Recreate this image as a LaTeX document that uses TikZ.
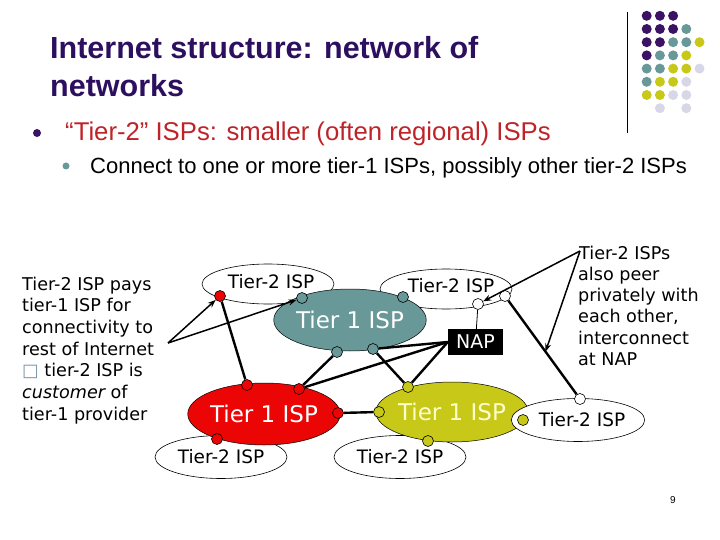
\documentclass[tikz,border=0pt]{standalone}
\usepackage{fontspec}
\setmainfont{Liberation Sans}
\newfontfamily\comic{DejaVu Sans}
\usetikzlibrary{shapes.geometric,arrows.meta,calc}
\definecolor{ttitle}{RGB}{45,15,95}
\definecolor{tpurple}{RGB}{60,18,100}
\definecolor{tred}{RGB}{190,35,40}
\definecolor{tealc}{RGB}{104,152,152}
\definecolor{yelc}{RGB}{200,200,25}
\definecolor{lavc}{RGB}{215,215,232}
\definecolor{redc}{RGB}{235,5,5}
\definecolor{sqc}{RGB}{120,150,165}
\definecolor{lighty}{RGB}{255,255,200}
\tikzset{
  isptwo/.style={ellipse, draw, line width=0.6pt, fill=white, minimum width=132pt, minimum height=40pt, inner sep=0pt, font=\comic\fontsize{18.5}{21}\selectfont},
  isplabel/.style={inner sep=0pt, font=\comic\fontsize{18.5}{21}\selectfont},
  tierone/.style={ellipse, draw, line width=0.5pt, inner sep=0pt, font=\comic\fontsize{23}{26}\selectfont},
  router/.style={circle, draw, line width=0.6pt, minimum size=11pt, inner sep=0pt},
  link/.style={line width=2.4pt},
  callout/.style={line width=1.5pt, -{Stealth[length=8pt,width=6pt]}},
  sidetxt/.style={anchor=base west, inner sep=0pt, font=\comic\fontsize{17.6}{20}\selectfont},
  gdot/.style={circle, inner sep=0pt, minimum size=10pt}
}
\begin{document}
\begin{tikzpicture}[x=1pt,y=-1pt]
\useasboundingbox (0,0) rectangle (720,540);
% header
\node[anchor=base west, inner sep=0pt, text=ttitle, font=\bfseries\fontsize{30.5}{34}\selectfont] (t1) at (50,59) {Internet structure: network of};
\node[anchor=base west, inner sep=0pt, text=ttitle, font=\bfseries\fontsize{30.5}{34}\selectfont] (t2) at (50,97) {networks};
\node[circle, fill=tpurple, inner sep=0pt, minimum size=8pt] (b1) at (37,133) {};
\node[anchor=base west, inner sep=0pt, text=tred, font=\fontsize{25.7}{28}\selectfont] (l1) at (65,141) {“Tier-2” ISPs: smaller (often regional) ISPs};
\node[circle, fill=tealc, inner sep=0pt, minimum size=7pt] (b2) at (66,166) {};
\node[anchor=base west, inner sep=0pt, font=\fontsize{22}{25}\selectfont] (l2) at (90,174) {Connect to one or more tier-1 ISPs, possibly other tier-2 ISPs};
% decoration
\draw[line width=1pt] (627,12) -- (627,133);
\foreach \r/\c/\col in {0/0/tpurple,0/1/tpurple,0/2/tpurple,
  1/0/tpurple,1/1/tpurple,1/2/tpurple,1/3/tealc,
  2/0/tpurple,2/1/tpurple,2/2/tealc,2/3/tealc,2/4/yelc,
  3/0/tpurple,3/1/tealc,3/2/tealc,3/3/yelc,
  4/0/tealc,4/1/tealc,4/2/yelc,4/3/yelc,4/4/lavc,
  5/0/tealc,5/1/yelc,5/2/yelc,5/3/lavc,
  6/0/yelc,6/1/yelc,6/2/lavc,6/3/lavc,
  7/1/lavc,7/3/lavc}
  \node[gdot, fill=\col] (g\r\c) at ({646.7+13.2*\c},{15.8+13.2*\r}) {};
% side texts
\node[sidetxt] (a1) at (22,290) {Tier-2 ISP pays};
\node[sidetxt] (a2) at (22,311.7) {tier-1 ISP for};
\node[sidetxt] (a3) at (22,333.4) {connectivity to};
\node[sidetxt] (a4) at (22,355) {rest of Internet};
\node[sidetxt] (a5) at (22,376.8) {{\color{sqc}□} tier-2 ISP is};
\node[sidetxt] (a6) at (22,398.5) {\itshape customer\upshape{} of};
\node[sidetxt] (a7) at (22,420.2) {tier-1 provider};
\node[sidetxt] (c1) at (579,259) {Tier-2 ISPs};
\node[sidetxt] (c2) at (578,280.3) {also peer};
\node[sidetxt] (c3) at (578,301.6) {privately with};
\node[sidetxt] (c4) at (578,322.9) {each other,};
\node[sidetxt] (c5) at (578,344.2) {interconnect};
\node[sidetxt] (c6) at (578,365.5) {at NAP};
% ISPs
\node[isptwo] (s1) at (268,284) {};
\node[isptwo] (s2) at (446,289) {};
\node[isptwo, minimum height=43pt] (s3) at (221,457) {Tier-2 ISP};
\node[isptwo, minimum height=43pt] (s4) at (400,457) {Tier-2 ISP};
\node[tierone, fill=tealc, text=white, minimum width=145pt, minimum height=62pt] (p1) at (350,320) {Tier 1 ISP};
\node[tierone, fill=redc, text=white, minimum width=146pt, minimum height=62pt] (p2) at (264,414) {Tier 1 ISP};
\node[tierone, fill=yelc, text=lighty, minimum width=148pt, minimum height=60pt] (p3) at (452,412) {Tier 1 ISP};
\node[isplabel] (s1t) at (271,282) {Tier-2 ISP};
\node[isplabel] (s2t) at (451,286) {Tier-2 ISP};
\node[isptwo, minimum width=133pt, minimum height=43pt] (s5) at (578,420) {\hspace*{8pt}Tier-2 ISP};
\node[fill=black, text=white, minimum width=55pt, minimum height=26pt, inner sep=0pt, font=\comic\fontsize{19}{22}\selectfont] (nap) at (475.5,342) {NAP};
% routers
\node[router, fill=redc] (r0) at (220,296) {};
\node[router, fill=tealc] (tA) at (302,298) {};
\node[router, fill=tealc] (tB) at (403,297) {};
\node[router, fill=tealc] (tC) at (337,352) {};
\node[router, fill=tealc] (tD) at (373,349) {};
\node[router, fill=white] (w1) at (478,304) {};
\node[router, fill=white] (w2) at (505,296) {};
\node[router, fill=redc] (rA) at (247,385) {};
\node[router, fill=redc] (rB) at (299,389) {};
\node[router, fill=redc] (rC) at (338,413) {};
\node[router, fill=redc] (rD) at (217,439) {};
\node[router, fill=yelc] (yA) at (408,387) {};
\node[router, fill=yelc] (yB) at (379,412) {};
\node[router, fill=yelc] (yC) at (428,441) {};
\node[router, fill=yelc] (yD) at (523,420) {};
\node[router, fill=white] (w3) at (580,399) {};
% links
\draw[link] (rA) -- (r0);
\draw[link] (rB) -- (tC);
\draw[link] (rB) -- (nap.west);
\draw[link] (tD) -- (nap.west);
\draw[link] (yA) -- (nap.west);
\draw[link] (tD) -- (yA);
\draw[link] (rC) -- (yB);
\draw[line width=0.8pt] (nap) -- (w1);
\draw[link] (w2) -- (w3);
% callouts
\coordinate (cl) at (168,343);
\coordinate (cr) at (580,251);
\coordinate (cm) at ($(w2)!0.54!(w3)$);
\draw[callout] (cl) -- (r0);
\draw[callout] (cl) -- (tA);
\draw[callout] (cr) -- (w1);
\draw[callout] (cr) -- (cm);
% page number
\node[inner sep=0pt, font=\fontsize{10}{12}\selectfont] (pg) at (673,500) {9};
\end{tikzpicture}
\end{document}
